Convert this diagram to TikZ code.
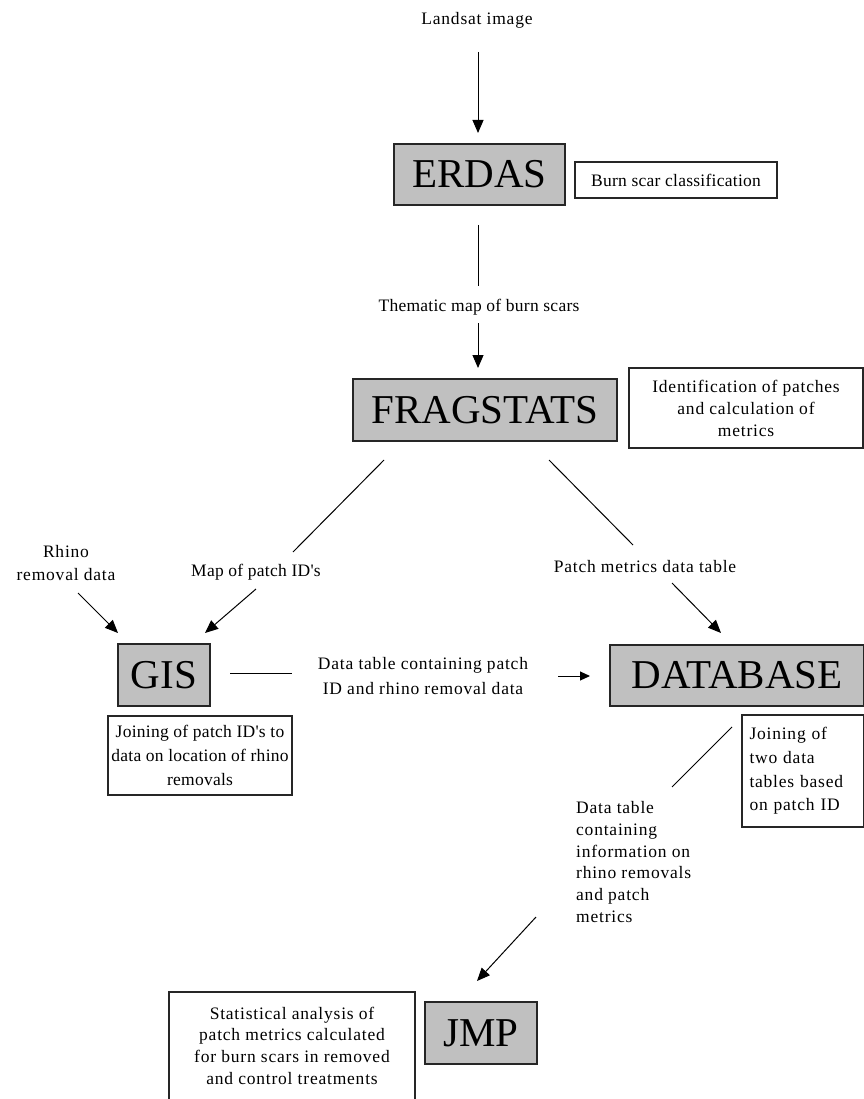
\documentclass[tikz,border=0pt]{standalone}
\usepackage{fontspec}
\setmainfont{Liberation Serif}
\newfontfamily\smfam[LetterSpace=4.5]{Liberation Serif}
\newfontfamily\smfamt[LetterSpace=1.5]{Liberation Serif}
\newcommand\smfs[1]{\smfam\fontsize{17.5}{#1}\selectfont}
\newcommand\smft[1]{\smfamt\fontsize{17.5}{#1}\selectfont}
\newcommand\bigfs{\rmfamily\fontsize{41}{45}\selectfont}
\usetikzlibrary{arrows.meta}
\definecolor{boxgray}{HTML}{C0C0C0}
\tikzset{
  gbox/.style={draw=black!85, fill=boxgray, line width=1.3pt, inner sep=0pt, font=\bigfs},
  wbox/.style={draw=black!85, fill=white, line width=1.1pt, inner sep=0pt, align=center},
  lbl/.style={inner sep=0pt, align=center},
  conn/.style={line width=1pt, black},
  arr/.style={conn, -{Triangle[length=13pt,width=11pt]}},
  sarr/.style={conn, -{Triangle[length=10pt,width=9pt]}}
}
\begin{document}
\begin{tikzpicture}[x=1pt,y=-1pt]
\useasboundingbox (0,0) rectangle (863,1099);
% nodes
\node[lbl, font=\smfs{21}] (landsat) at (477,20) {Landsat image};
\node[gbox, minimum width=171pt, minimum height=61pt] (erdas) at (479.5,174.5) {ERDAS};
\node[wbox, font=\smft{21}, minimum width=202pt, minimum height=36pt] (burn) at (676,180) {Burn scar classification};
\node[lbl, font=\smft{21}] (thematic) at (479,307) {Thematic map of burn scars};
\node[gbox, minimum width=264pt, minimum height=62pt] (frag) at (485,410) {FRAGSTATS};
\node[wbox, font=\smfs{22}, minimum width=234pt, minimum height=80pt] (ident) at (746,408) {Identification of patches\\and calculation of\\metrics};
\node[lbl, font=\smft{21}] (mapid) at (256,572) {Map of patch ID's};
\node[lbl, font=\smfs{23}] (rhino) at (66,563) {Rhino\\removal data};
\node[lbl, font=\smfs{21}] (pmetrics) at (645,567) {Patch metrics data table};
\node[gbox, minimum width=92pt, minimum height=62pt] (gis) at (164,675) {GIS};
\node[lbl, font=\smfs{25}] (dtable) at (423,676) {Data table containing patch\\ID and rhino removal data};
\node[gbox, minimum width=254pt, minimum height=61pt] (db) at (737,675.5) {DATABASE};
\node[wbox, font=\smft{24}, minimum width=184pt, minimum height=79pt] (joinp) at (200,755.5) {Joining of patch ID's to\\data on location of rhino\\removals};
\node[wbox, font=\smfs{23.7}, minimum width=122pt, minimum height=112pt, align=left, text width=107pt] (joint) at (803,771) {Joining of\\two data\\tables based\\on patch ID};
\node[lbl, font=\smfs{21.7}, align=left, anchor=west] (dinfo) at (576,862) {Data table\\containing\\information on\\rhino removals\\and patch\\metrics};
\node[gbox, minimum width=112pt, minimum height=62pt] (jmp) at (481,1033) {JMP};
\node[wbox, minimum width=246pt, minimum height=118pt] (stat) at (292,1051) {};
\node[lbl, font=\smfs{21.7}] (stattext) at (292,1045.5) {Statistical analysis of\\patch metrics calculated\\for burn scars in removed\\and control treatments};
% connector end points
\coordinate (a1) at (478,52);   \coordinate (a2) at (478,133);
\coordinate (b1) at (478,225);  \coordinate (b2) at (478,286);
\coordinate (c1) at (478,323);  \coordinate (c2) at (478,368);
\coordinate (d1) at (384,460);  \coordinate (d2) at (293,552);
\coordinate (e1) at (256,589);  \coordinate (e2) at (205,633);
\coordinate (f1) at (78,593);   \coordinate (f2) at (118,633);
\coordinate (g1) at (549,460);  \coordinate (g2) at (633,545);
\coordinate (h1) at (672,583);  \coordinate (h2) at (721,633);
\coordinate (i1) at (230,673);  \coordinate (i2) at (292,673);
\coordinate (j1) at (558,676);  \coordinate (j2) at (590,676);
\coordinate (k1) at (732,727);  \coordinate (k2) at (672,787);
\coordinate (l1) at (536,917);  \coordinate (l2) at (477,981);
% connectors
\draw[arr] (a1) -- (a2);
\draw[conn] (b1) -- (b2);
\draw[arr] (c1) -- (c2);
\draw[conn] (d1) -- (d2);
\draw[arr] (e1) -- (e2);
\draw[arr] (f1) -- (f2);
\draw[conn] (g1) -- (g2);
\draw[arr] (h1) -- (h2);
\draw[conn] (i1) -- (i2);
\draw[sarr] (j1) -- (j2);
\draw[conn] (k1) -- (k2);
\draw[arr] (l1) -- (l2);
\end{tikzpicture}
\end{document}
